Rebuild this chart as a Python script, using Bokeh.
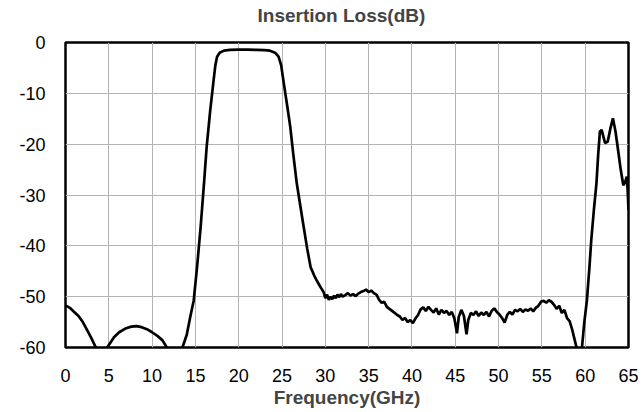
from bokeh.plotting import figure
from bokeh.models import FixedTicker, Range1d, PrintfTickFormatter, Title
from bokeh.embed import file_html
from bokeh.resources import INLINE

freq_ghz = [0, 0.5, 1.0, 1.5, 2.0, 2.5, 3.0, 3.5, 4.0, 4.5, 4.8, 5.2, 5.6, 6.2, 7.0, 7.6, 8.2, 8.8,
            9.4, 10.0, 10.6, 11.2, 11.7, 12.2, 13.0, 13.5, 14.0, 14.4, 14.8, 15.2, 15.6, 16.0, 16.3,
            16.7, 17.1, 17.3, 17.5, 17.8, 18.3, 19.0, 20.0, 21.0, 22.0, 23.0, 23.6, 24.2, 24.6, 24.9,
            25.2, 25.6, 25.95, 26.3, 26.7, 27.1, 27.5, 27.9, 28.3, 28.7, 29.0, 29.4, 29.8, 30.0, 30.2,
            30.4, 30.6, 30.8, 31.0, 31.2, 31.4, 31.6, 31.8, 32.0, 32.3, 32.6, 32.9, 33.2, 33.5, 33.8,
            34.1, 34.4, 34.7, 35.0, 35.3, 35.6, 35.9, 36.2, 36.5, 36.8, 37.1, 37.4, 37.7, 38.0, 38.3,
            38.6, 38.9, 39.2, 39.5, 39.8, 40.1, 40.4, 40.7, 41.0, 41.3, 41.6, 41.9, 42.2, 42.5, 42.8,
            43.1, 43.4, 43.7, 44.0, 44.3, 44.6, 44.9, 45.2, 45.4, 45.7, 46.0, 46.3, 46.5, 46.8, 47.1,
            47.4, 47.7, 48.0, 48.3, 48.6, 48.9, 49.2, 49.5, 49.8, 50.1, 50.4, 50.7, 51.0, 51.3, 51.6,
            51.9, 52.2, 52.5, 52.8, 53.1, 53.4, 53.7, 54.0, 54.3, 54.6, 54.9, 55.2, 55.5, 55.8, 56.1,
            56.4, 56.7, 57.0, 57.3, 57.6, 57.9, 58.2, 58.5, 58.8, 59.0, 59.3, 59.6, 59.9, 60.2, 60.5,
            60.7, 61.0, 61.3, 61.5, 61.7, 61.9, 62.1, 62.3, 62.6, 62.9, 63.2, 63.5, 63.8, 64.1, 64.4,
            64.6, 64.8, 64.9, 65.0]

loss_db = [-51.7, -52.2, -53.0, -53.8, -55.0, -56.6, -58.2, -60.0, -61.5, -61.0, -60.0, -59.0, -58.0,
           -57.0, -56.2, -55.9, -55.8, -56.0, -56.4, -57.0, -57.7, -58.6, -60.0, -61.5, -61.5, -60.0,
           -57.5, -54.0, -50.8, -44.0, -36.3, -27.5, -20.5, -13.5, -7.4, -4.5, -2.8, -2.0, -1.6, -1.45,
           -1.4, -1.4, -1.45, -1.5, -1.6, -2.0, -2.8, -4.5, -8.0, -12.5, -16.6, -22.0, -27.7, -32.0,
           -36.3, -40.5, -44.2, -45.8, -46.8, -48.0, -49.1, -50.3, -49.6, -50.6, -50.0, -50.5, -49.8,
           -50.3, -49.6, -50.1, -49.5, -50.0, -49.7, -49.3, -49.8, -49.5, -49.9, -49.4, -49.1, -48.9,
           -48.6, -49.1, -48.8, -49.3, -49.6, -50.6, -51.2, -51.0, -52.0, -52.4, -52.8, -53.2, -53.6,
           -53.9, -54.6, -54.2, -55.0, -54.6, -55.2, -54.3, -53.6, -52.5, -52.1, -52.8, -52.0, -52.6,
           -53.1, -52.3, -53.5, -52.6, -53.2, -52.8, -53.6, -53.0, -54.3, -57.2, -54.0, -52.6, -53.8,
           -57.4, -54.6, -53.2, -53.6, -52.9, -53.8, -53.1, -53.6, -53.0, -53.9, -52.8, -52.3, -53.0,
           -53.5, -54.2, -55.1, -53.6, -53.0, -53.5, -52.6, -52.9, -52.4, -53.0, -52.5, -52.8, -52.3,
           -52.9, -52.2, -51.8, -51.0, -50.8, -51.2, -50.7, -51.0, -51.6, -52.4, -51.8, -53.2, -52.6,
           -54.2, -54.8, -56.5, -58.6, -60.0, -62.0, -60.5, -55.0, -50.7, -44.0, -38.9, -33.0, -27.7,
           -22.0, -17.5, -17.2, -18.5, -19.8, -19.5, -17.0, -14.9, -17.5, -21.2, -25.0, -28.1, -27.5,
           -26.4, -29.0, -33.0]

x_ticks = [0, 5, 10, 15, 20, 25, 30, 35, 40, 45, 50, 55, 60, 65]
y_ticks = [0, -10, -20, -30, -40, -50, -60]

p = figure(width=640, height=410, output_backend="svg", toolbar_location=None,
           x_range=Range1d(0, 65), y_range=Range1d(-60, 0),
           min_border_left=65, min_border_right=12, min_border_top=42, min_border_bottom=63)

# spacer between frame and title, then the title itself (farther from frame)
p.add_layout(Title(text=" ", text_font_size="10px", standoff=4), "above")
p.add_layout(Title(text="Insertion Loss(dB)", text_font="Liberation Sans",
                   text_font_size="19px", text_font_style="bold",
                   align="left", offset=192, standoff=0), "above")

p.line(freq_ghz, loss_db, line_color="black", line_width=2.7)

for ax in (p.xaxis[0], p.yaxis[0]):
    ax.axis_line_color = None
    ax.major_tick_line_color = None
    ax.minor_tick_line_color = None
    ax.major_label_text_font = "Liberation Sans"
    ax.major_label_text_font_size = "18px"
    ax.major_label_text_color = "black"

p.xaxis.ticker = FixedTicker(ticks=x_ticks)
p.yaxis.ticker = FixedTicker(ticks=y_ticks)
p.yaxis.formatter = PrintfTickFormatter(format="%d")
p.xaxis.major_label_standoff = 15
p.yaxis.major_label_standoff = 14
p.xaxis.axis_label = "Frequency(GHz)"
p.xaxis.axis_label_text_font = "Liberation Sans"
p.xaxis.axis_label_text_font_size = "19px"
p.xaxis.axis_label_text_font_style = "bold"
p.xaxis.axis_label_standoff = 2

p.xgrid.ticker = FixedTicker(ticks=x_ticks)
p.ygrid.ticker = FixedTicker(ticks=y_ticks)
p.grid.grid_line_color = "#b4b4b4"
p.grid.grid_line_width = 1

p.outline_line_color = "black"
p.outline_line_width = 2.5
p.outline_line_alpha = 1.0
p.background_fill_color = "white"
p.border_fill_color = "white"

open("out.html", "w").write(file_html(p, INLINE))
